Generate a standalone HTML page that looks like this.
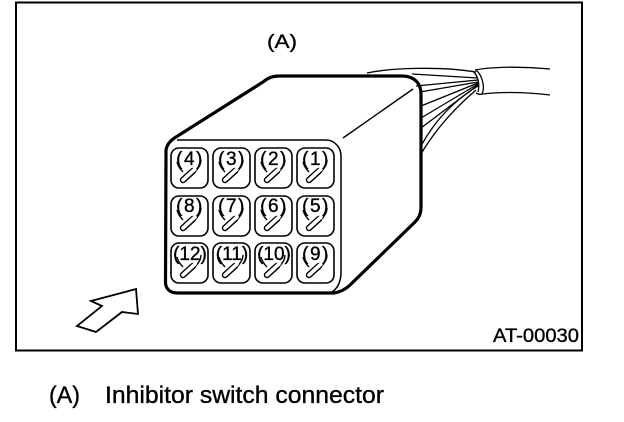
<!DOCTYPE html>
<html><head><meta charset="utf-8"><style>
html,body{margin:0;padding:0;background:#fff}
svg{display:block}
text{font-family:"Liberation Sans",sans-serif;fill:#000;stroke:#000;stroke-width:.35}
</style></head><body>
<svg width="624" height="422" viewBox="0 0 624 422" xmlns="http://www.w3.org/2000/svg">
<defs>
<g id="c" fill="none" stroke="#000">
<rect x="0" y="0" width="37" height="40" rx="8" stroke-width="1.6"/>
<path d="M6 14C7 18 9 21 12 24" stroke-width="1.4"/>
<path d="M30 12C30 17 27 20 25 23" stroke-width="1.4"/>
<path d="M12 32L22 23" stroke-width="6.5" stroke-linecap="round"/>
<path d="M12 32L24 21" stroke="#fff" stroke-width="3.6" stroke-linecap="round"/>
</g>
</defs>
<rect x="16" y="2.5" width="566" height="348" fill="none" stroke="#000" stroke-width="2"/>
<text x="267" y="48" font-size="19" textLength="30" lengthAdjust="spacingAndGlyphs">(A)</text>
<path d="M367 73C390 68 440 66 476 72M475 70C490 67 520 66 550 69M482 94C500 92 525 92 550 95" fill="none" stroke="#000" stroke-width="1.3"/>
<path d="M476 70C483 76 485 88 482 94C480 95 478 94 476 93M473 71C478 76 480 84 478 92" fill="none" stroke="#000" stroke-width="1.3"/>
<g fill="none" stroke="#000" stroke-width="1.3">
<path d="M412 74L478 78"/>
<path d="M416 86L478 80"/>
<path d="M420 92L478 82"/>
<path d="M421 106L478 83"/>
<path d="M421 118L478 84"/>
<path d="M421 128L478 85"/>
<path d="M421 146C435 120 455 100 478 86"/>
<path d="M421 154C435 130 455 108 476 90"/>
</g>
<path d="M166 150C167 144 171 140 176 137L263 82C268 78 272 76 280 76L402 76C414 76 421 83 421 94L421 208C421 214 419 218 415 222L350 285C345 290 340 292 334 293L178 293C170 293 166 289 165.500 283Z" fill="none" stroke="#000" stroke-width="3.200"/>
<path d="M177 140L326 140C335 140 341 148 341 156L341 272C341 282 338 288 332 292" fill="none" stroke="#000" stroke-width="1.500"/>
<path d="M343 138L413 89" fill="none" stroke="#000" stroke-width="1.400"/>
<use href="#c" x="171" y="148"/><use href="#c" x="213" y="148"/><use href="#c" x="255" y="148"/><use href="#c" x="297" y="148"/>
<use href="#c" x="171" y="196"/><use href="#c" x="213" y="196"/><use href="#c" x="255" y="196"/><use href="#c" x="297" y="196"/>
<use href="#c" x="171" y="243"/><use href="#c" x="213" y="243"/><use href="#c" x="255" y="243"/><use href="#c" x="297" y="243"/>
<g font-size="19" text-anchor="middle" letter-spacing="1.500">
<text x="190" y="165">(4)</text><text x="232" y="165">(3)</text><text x="274" y="165">(2)</text><text x="316" y="165">(1)</text>
<text x="190" y="212">(8)</text><text x="232" y="212">(7)</text><text x="274" y="212">(6)</text><text x="316" y="212">(5)</text>
<text x="190" y="260" letter-spacing="0">(12)</text><text x="232" y="260" letter-spacing="0">(11)</text><text x="274" y="260" letter-spacing="0">(10)</text><text x="316" y="260">(9)</text>
</g>
<path d="M136 289L91 301L102 306L77 326L96 332L122 312L138 314Z" fill="none" stroke="#000" stroke-width="1.800" stroke-linejoin="miter"/>
<text x="493" y="342" font-size="19" textLength="86" lengthAdjust="spacingAndGlyphs">AT-00030</text>
<text x="49" y="403" font-size="24" textLength="31" lengthAdjust="spacingAndGlyphs">(A)</text>
<text x="105" y="403" font-size="24" textLength="279" lengthAdjust="spacingAndGlyphs">Inhibitor switch connector</text>
</svg>
</body></html>
